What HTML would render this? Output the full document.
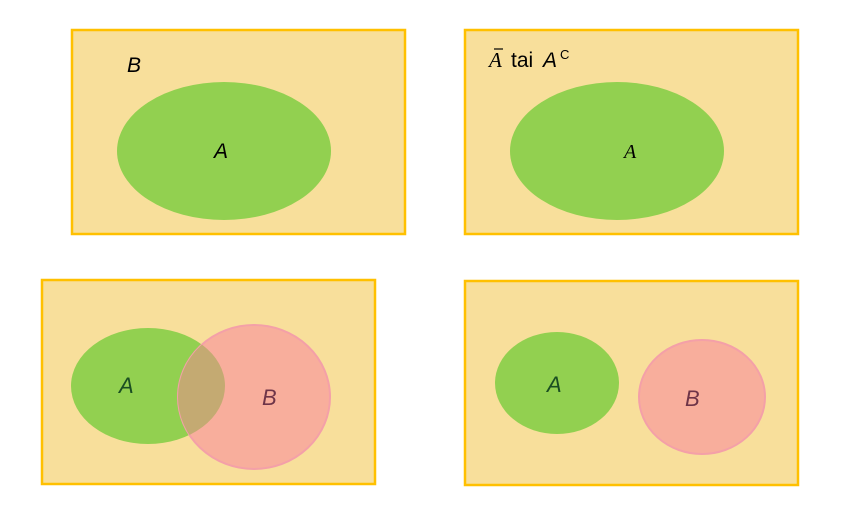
<!DOCTYPE html>
<html><head><meta charset="utf-8"><style>
html,body{margin:0;padding:0;background:#fff;width:842px;height:514px;overflow:hidden}
svg{display:block}
text{font-family:"Liberation Sans",sans-serif;font-style:italic;font-size:21px}
</style></head><body>
<svg width="842" height="514" viewBox="0 0 842 514" xmlns="http://www.w3.org/2000/svg">
<defs><clipPath id="cA"><ellipse cx="148" cy="386" rx="77" ry="58"/></clipPath></defs>
<g fill="#F8DF9B" stroke="#FFC000" stroke-width="2.5">
<rect x="72" y="30" width="333" height="204"/>
<rect x="465" y="30" width="333" height="204"/>
<rect x="42" y="280" width="333" height="204"/>
<rect x="465" y="281" width="333" height="204"/>
</g>
<ellipse cx="224" cy="151" rx="107" ry="69" fill="#92D050"/>
<ellipse cx="617" cy="151" rx="107" ry="69" fill="#92D050"/>
<ellipse cx="148" cy="386" rx="77" ry="58" fill="#92D050"/>
<ellipse cx="254" cy="397" rx="76" ry="72" fill="#F8AE9C" stroke="#F4A0A8" stroke-width="2"/>
<ellipse cx="254" cy="397" rx="76" ry="72" fill="#C4AA72" clip-path="url(#cA)"/>
<ellipse cx="557" cy="383" rx="62" ry="51" fill="#92D050"/>
<ellipse cx="702" cy="397" rx="63" ry="57" fill="#F8AE9C" stroke="#F4A0A8" stroke-width="2"/>
<text x="127" y="72" fill="#000">B</text>
<text x="214" y="158" fill="#000">A</text>
<text x="489" y="67" style="font-family:'Liberation Serif',serif;font-size:21px">A</text>
<line x1="494" y1="49" x2="503" y2="49" stroke="#000" stroke-width="1.2"/>
<text x="511" y="67" style="font-style:normal">tai</text>
<text x="543" y="67">A</text>
<text x="560" y="59" style="font-style:normal;font-size:13px">C</text>
<text x="624" y="158" style="font-family:'Liberation Serif',serif;font-size:20px">A</text>
<text x="119" y="393" fill="#1B4F22" style="font-size:22px">A</text>
<text x="262" y="405" fill="#6E3448" style="font-size:22px">B</text>
<text x="547" y="392" fill="#1B4F22" style="font-size:22px">A</text>
<text x="685" y="406" fill="#6E3448" style="font-size:22px">B</text>
</svg>
</body></html>
